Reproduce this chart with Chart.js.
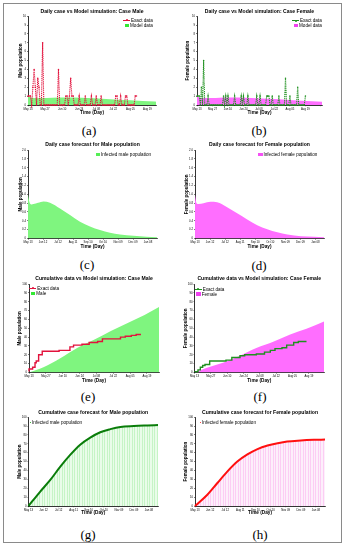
<!DOCTYPE html>
<html><head><meta charset="utf-8">
<script src="https://cdn.jsdelivr.net/npm/chart.js@4.4.1/dist/chart.umd.min.js"></script>
<style>
html,body{margin:0;padding:0;background:#fff;}
body{width:348px;height:550px;position:relative;overflow:hidden;font-family:'Liberation Sans',Arial,sans-serif;}
#frame{position:absolute;left:3px;top:3px;width:339px;height:540px;border:1px solid #8a8a8a;box-sizing:border-box;}
canvas{position:absolute;}
.lbl{position:absolute;font-family:'Liberation Serif','DejaVu Serif',serif;font-size:13px;transform:translate(-50%,-50%);white-space:nowrap;color:#000;}
.leg{position:absolute;font-size:4.6px;line-height:5px;white-space:nowrap;color:#000;z-index:5;}
.row{position:relative;height:5px;display:flex;align-items:center;}
.sw{display:inline-block;margin-right:1px;position:relative;}
</style>
</head><body>
<div id="frame"></div>
<script>
// ---------- data ----------
const shortTickLabels = ['May 13','May 27','Jun 10','Jun 24','Jul 08','Jul 22','Aug 05','Aug 19'];
const longTickLabels  = ['May 13','Jun 12','Jul 12','Aug 11','Sep 10','Oct 10','Nov 09','Dec 09','Jan 08'];

// daily male cases, day 0 = May 13
const maleDaily = [1,1,1,0,2,4,2,0,3,2,0,0,7,
  0,0,0,0,0,0,0,0,0,0,0,0,
  4,0,0,0,0,0,
  1,1,0,1,3,1,1,0,0,0,0,
  1,0,0,0,0,1,0,0,0,0,1,0,0,0,1,0,0,0,1,
  0,0,0,0,0,0,0,0,0,0,0,
  1,1,0,0,1,0,0,0,1,1,0,0,0,0,0,0,1,1];
// daily female cases, day 0 = May 13
const femaleDaily = [1,1,1,0,2,0,5,0,0,0,1,
  0,0,0,0,0,0,0,0,0,0,0,0,0,
  1,0,1,0,1,0,0,0,0,0,1,0,0,0,0,0,1,0,1,0,0,0,1,
  0,0,0,0,0,0,0,1,0,0,1,0,0,0,0,0,1,1,1,0,0,1,
  0,0,0,0,0,1,0,0,0,0,0,3,0,0,0,1,0,0,0,0,0,0,2,0,0,0,0,0,0,1];

// model daily forecast (also model band in daily plots)
const maleForecastDays   = [0,3,7,11,20,31,44,64,84,104,124,144,164,184,211,237,258];
const maleForecastValues = [0.99,0.82,0.77,0.78,0.81,0.84,0.81,0.68,0.53,0.38,0.27,0.19,0.13,0.09,0.06,0.04,0.03];
const femaleForecastDays   = [0,3,7,17,31,44,64,84,104,124,144,164,184,211,237,257];
const femaleForecastValues = [0.99,0.80,0.78,0.80,0.83,0.82,0.71,0.57,0.43,0.30,0.21,0.14,0.09,0.05,0.04,0.03];

// cumulative exact data (step points)
const maleCumDays   = [0,3,5,6,8,11,25,34,37,44,50,57,61,76,80,85,89,93];
const maleCumValues = [1,4,6,11,13,20,24,25,29,31,32,34,35,38,40,41,42,43];
const femaleCumDays   = [0,3,5,7,9,13,27,32,39,43,53,60,65,69,75,79,85,89,96];
const femaleCumValues = [1,1,3,6,8,9,13,14,17,19,20,21,23,25,27,28,31,34,35];

// cumulative model simulation
const maleCumModelDays   = [0,12,26,40,54,68,82,96,108];
const maleCumModelValues = [0,5.8,16,27.7,37,47,56,65,74];
const femaleCumModelDays   = [0,10,25,39,53,68,82,96,111];
const femaleCumModelValues = [0,5,11.4,19,27.8,35,43,49.4,57.8];

// cumulative forecast
const maleCumForecastDays   = [0,23,43,63,83,103,123,143,163,183,210,237,258];
const maleCumForecastValues = [0,16,29,44,57.5,69,77,83,86.5,89,90,90.6,91];
const femaleCumForecastDays   = [0,24,44,64,84,104,124,144,164,183,210,236,258];
const femaleCumForecastValues = [0,12.4,25.6,38.7,50,58,64,68,70.7,72.6,73.7,74.4,74.8];

// ---------- styles ----------
const F = "'Liberation Sans', Arial, sans-serif";
const RED = '#e2123c';
const DGREEN = '#1e901e';
const GFILL = '#7ff57f';
const MFILL = '#ff6eff';

const seq = ys => ys.map((y,i)=>({x:i,y}));
const pts = (xs,ys) => xs.map((x,i)=>({x,y:ys[i]}));

function stripes(bg,color){
  const c=document.createElement('canvas'); c.width=5; c.height=4;
  const x=c.getContext('2d');
  x.fillStyle=bg; x.fillRect(0,0,5,4);
  x.fillStyle=color; x.fillRect(0,0,1,4); x.fillRect(2,0,1,4);
  return x.createPattern(c,'repeat');
}

function makeChart(g, cfg){
  const cv=document.createElement('canvas');
  const left=Math.round(g.L-g.yW), top=Math.round(g.titleY-3);
  const W=Math.round(g.R-left+2), H=Math.round(g.B+g.xH-top);
  cv.width=W; cv.height=H;
  cv.style.left=left+'px'; cv.style.top=top+'px';
  cv.style.width=W+'px'; cv.style.height=H+'px';
  document.body.appendChild(cv);
  const padB = Math.max(0, Math.round(g.T) - (top+6));
  new Chart(cv,{
    type:'line',
    data:{datasets:cfg.datasets},
    options:{
      responsive:false, animation:false, devicePixelRatio:1,
      layout:{padding:{left:0,right:2,top:0,bottom:0}},
      plugins:{legend:{display:false},tooltip:{enabled:false},
        title:{display:true,text:cfg.title,fullSize:false,color:'#000',
          font:{family:F,size:5.1,weight:'bold',lineHeight:1.2},padding:{top:0,bottom:padB}}},
      scales:{
        x:{type:'linear',min:0,max:cfg.xMax,
          afterFit:s=>{s.height=g.xH;},
          ticks:{stepSize:cfg.xStep,includeBounds:false,autoSkip:false,maxRotation:0,minRotation:0,
            color:'#000',padding:1,font:{family:F,size:2.8},
            callback:v=>{const k=Math.round(v/cfg.xStep);return cfg.xLabels[k]!==undefined?cfg.xLabels[k]:'';}},
          grid:{display:true,drawOnChartArea:false,drawTicks:true,tickLength:1.2,color:'#000',lineWidth:0.5},
          border:{display:true,color:'#000',width:0.8},
          title:{display:true,text:'Time (Day)',color:'#000',padding:0,font:{family:F,size:4.7,weight:'bold',lineHeight:1.2}}},
        y:{type:'linear',min:0,max:cfg.yMax,
          afterFit:s=>{s.width=g.yW;},
          ticks:{stepSize:cfg.yStep,autoSkip:false,color:'#000',padding:1,font:{family:F,size:2.8}},
          grid:{display:true,drawOnChartArea:false,drawTicks:true,tickLength:1,color:'#000',lineWidth:0.5},
          border:{display:true,color:'#000',width:0.8},
          title:{display:true,text:cfg.yTitle,color:'#000',padding:0,font:{family:F,size:4.5,weight:'bold',lineHeight:1.2}}}
      }
    }
  });
}

function exactDaily(data,color){
  return {data:seq(data),borderColor:color,borderWidth:1.1,borderDash:[1.1,0.8],pointRadius:0.75,
    pointBackgroundColor:color,pointBorderWidth:0,fill:false,tension:0,clip:3};
}
function area(xs,ys,color){
  return {data:pts(xs,ys),borderColor:'rgba(0,0,0,0)',borderWidth:0,pointRadius:0,fill:'origin',
    backgroundColor:color,cubicInterpolationMode:'monotone'};
}
function stepLine(xs,ys,color){
  return {data:pts(xs,ys),stepped:'after',borderColor:color,borderWidth:1.4,pointRadius:0,fill:false,clip:3};
}
function curve(xs,ys,color,fillPat){
  return {data:pts(xs,ys),borderColor:color,borderWidth:2,pointRadius:0,fill:'origin',
    backgroundColor:fillPat,cubicInterpolationMode:'monotone',clip:3};
}

// ---------- panels ----------
makeChart({L:28,T:16,R:158,B:105,titleY:12,yW:10,xH:11},{
  title:'Daily case vs Model simulation: Case Male',yTitle:'Male population',
  xMax:105,xStep:14,xLabels:shortTickLabels,yMax:10,yStep:1,
  datasets:[exactDaily(maleDaily,RED),area(maleForecastDays,maleForecastValues,GFILL)]});
makeChart({L:197,T:16,R:324,B:105,titleY:12,yW:12,xH:11},{
  title:'Daily case vs Model simulation: Case Female',yTitle:'Female population',
  xMax:113,xStep:14,xLabels:shortTickLabels,yMax:10,yStep:1,
  datasets:[exactDaily(femaleDaily,DGREEN),area(femaleForecastDays,femaleForecastValues,MFILL)]});
makeChart({L:28,T:150,R:157,B:238,titleY:145,yW:10,xH:11.5},{
  title:'Daily case forecast for Male population',yTitle:'Male population',
  xMax:258,xStep:30,xLabels:longTickLabels,yMax:2,yStep:0.2,
  datasets:[area(maleForecastDays,maleForecastValues,GFILL)]});
makeChart({L:195,T:150,R:324,B:238,titleY:145,yW:11,xH:11.5},{
  title:'Daily case forecast for Female population',yTitle:'Female population',
  xMax:257,xStep:30,xLabels:longTickLabels,yMax:2,yStep:0.2,
  datasets:[area(femaleForecastDays,femaleForecastValues,MFILL)]});
makeChart({L:29,T:284,R:159,B:372,titleY:279,yW:12,xH:11.5},{
  title:'Cumulative data vs Model simulation: Case Male',yTitle:'Male population',
  xMax:108,xStep:14,xLabels:shortTickLabels,yMax:100,yStep:10,
  datasets:[stepLine(maleCumDays,maleCumValues,RED),area(maleCumModelDays,maleCumModelValues,GFILL)]});
makeChart({L:194,T:284,R:324,B:372,titleY:279,yW:11.5,xH:11.5},{
  title:'Cumulative data vs Model simulation: Case Female',yTitle:'Female population',
  xMax:111,xStep:14,xLabels:shortTickLabels,yMax:100,yStep:10,
  datasets:[stepLine(femaleCumDays,femaleCumValues,DGREEN),area(femaleCumModelDays,femaleCumModelValues,MFILL)]});
makeChart({L:28,T:417,R:158,B:506,titleY:413,yW:11.5,xH:10},{
  title:'Cumulative case forecast for Male population',yTitle:'Male population',
  xMax:258,xStep:30,xLabels:longTickLabels,yMax:100,yStep:10,
  datasets:[curve(maleCumForecastDays,maleCumForecastValues,'#0a7d0a',stripes('rgba(220,250,220,0.6)','#c6f4c6'))]});
makeChart({L:195,T:417,R:325,B:506,titleY:413,yW:12,xH:10},{
  title:'Cumulative case forecast for Female population',yTitle:'Female population',
  xMax:258,xStep:30,xLabels:longTickLabels,yMax:100,yStep:10,
  datasets:[curve(femaleCumForecastDays,femaleCumForecastValues,'#ff1010',stripes('rgba(252,228,248,0.6)','#fccdf4'))]});

// ---------- legends ----------
function legend(x,y,items){
  const d=document.createElement('div'); d.className='leg';
  d.style.left=x+'px'; d.style.top=(y-2.5)+'px';
  items.forEach(it=>{
    const r=document.createElement('div'); r.className='row';
    const s=document.createElement('span'); s.className='sw';
    if(it.kind==='line'){
      s.style.width='7px'; s.style.height='1px'; s.style.background=it.color;
      const dot=document.createElement('span');
      dot.style.cssText='position:absolute;left:2.5px;top:-0.6px;width:2.2px;height:2.2px;border-radius:50%;background:'+it.color;
      s.appendChild(dot);
    } else if(it.kind==='box'){
      s.style.width='4.5px'; s.style.height='3.5px'; s.style.background=it.color; s.style.marginLeft='1.5px';
    } else {
      s.style.width='1.6px'; s.style.height='1.6px'; s.style.borderRadius='50%'; s.style.background=it.color;
    }
    r.appendChild(s);
    const t=document.createElement('span'); t.textContent=it.text; r.appendChild(t);
    d.appendChild(r);
  });
  document.body.appendChild(d);
}
legend(123,20.3,[{kind:'line',color:RED,text:'Exact data'},{kind:'box',color:'#33e833',text:'Model data'}]);
legend(292,20.7,[{kind:'line',color:DGREEN,text:'Exact data'},{kind:'box',color:'#f040f0',text:'Model data'}]);
legend(94,154.7,[{kind:'box',color:'#55ee55',text:'Infected male population'}]);
legend(256.5,154.7,[{kind:'box',color:'#f550f5',text:'Infected female population'}]);
legend(29.3,288.3,[{kind:'line',color:RED,text:'Exact data'},{kind:'box',color:'#33e833',text:'Male'}]);
legend(194.7,289,[{kind:'line',color:DGREEN,text:'Exact data'},{kind:'box',color:'#f040f0',text:'Female'}]);
legend(29.5,422.3,[{kind:'dot',color:'#0a9a0a',text:'Infected male population'}]);
legend(199.5,422.3,[{kind:'dot',color:'#ff1010',text:'Infected female population'}]);

// ---------- panel labels ----------
const panelLabels=[['(a)',89,131],['(b)',259,131],['(c)',87,265],['(d)',259,266],['(e)',88,397],['(f)',260,397],['(g)',88,535],['(h)',260,535]];
panelLabels.forEach(([t,x,y])=>{const d=document.createElement('div');d.className='lbl';d.textContent=t;d.style.left=x+'px';d.style.top=y+'px';document.body.appendChild(d);});
</script>
</body></html>
